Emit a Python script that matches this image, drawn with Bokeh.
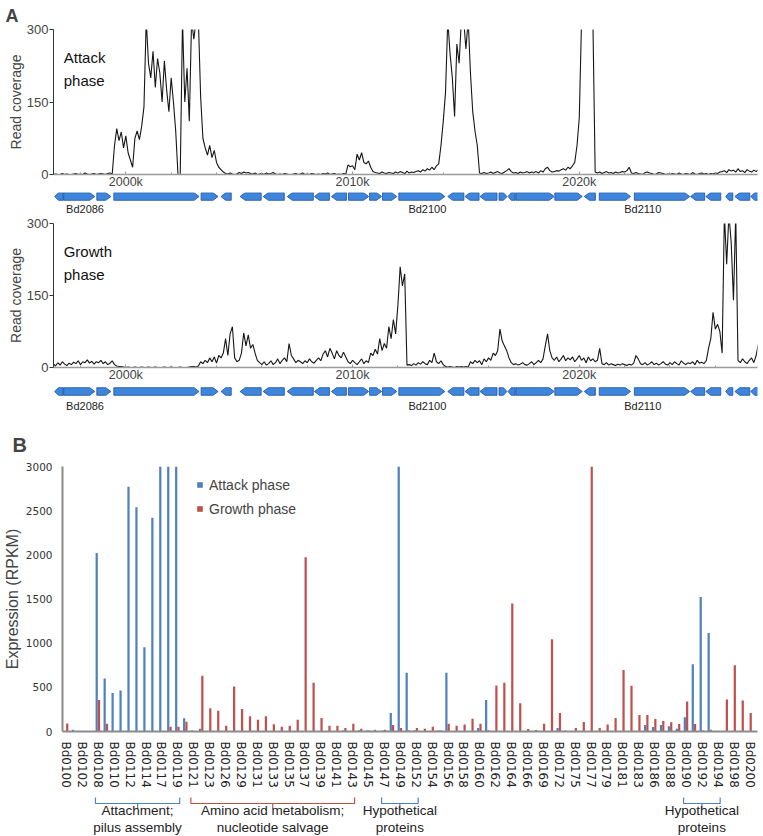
import numpy as np
from bokeh.plotting import figure
from bokeh.layouts import column
from bokeh.models import Range1d, FixedTicker, Legend, LegendItem
from bokeh.core.properties import value
from bokeh.embed import file_html
from bokeh.resources import INLINE

# ---------------- Panel A data ----------------
COV_START_KB = 1996.8
COV_STEP_KB = 0.1

attack_cov = [
    0, 1, 0, 0, 2, 0, 1, 0, 0, 1,
    2, 0, 1, 0, 3, 1, 0, 1, 2, 0,
    1, 2, 1, 0, 2, 3, 1, 60, 95, 70,
    88, 55, 80, 45, 30, 15, 75, 90, 72, 100,
    140, 320, 230, 200, 255, 180, 240, 210, 150, 235,
    175, 130, 200, 150, 90, 0, 0, 320, 150, 220,
    110, 320, 280, 320, 320, 160, 75, 55, 40, 60,
    35, 50, 25, 15, 10, 5, 2, 1, 3, 1,
    0, 1, 4, 2, 5, 3, 4, 2, 1, 3,
    0, 1, 2, 0, 3, 1, 2, 4, 1, 0,
    1, 0, 2, 1, 0, 0, 1, 2, 0, 1,
    3, 0, 1, 0, 2, 1, 0, 1, 0, 2,
    1, 3, 0, 1, 2, 0, 1, 0, 2, 1,
    20, 16, 18, 10, 42, 30, 45, 25, 22, 28,
    15, 6, 4, 3, 2, 5, 3, 2, 4, 3,
    2, 5, 3, 6, 4, 2, 7, 3, 5, 4,
    6, 8, 5, 10, 7, 12, 9, 15, 10, 18,
    22, 60, 110, 170, 320, 250, 200, 120, 270, 230,
    320, 320, 260, 320, 210, 130, 90, 60, 3, 2,
    4, 2, 3, 5, 2, 4, 6, 3, 2, 5,
    8, 12, 6, 3, 4, 2, 5, 3, 4, 6,
    3, 5, 4, 6, 3, 8, 5, 12, 15, 8,
    5, 6, 8, 7, 10, 12, 9, 15, 12, 18,
    25, 60, 118, 320, 320, 320, 320, 320, 320, 5,
    3, 5, 2, 4, 6, 3, 4, 2, 5, 3,
    4, 6, 5, 8, 15, 3, 2, 4, 2, 1,
    0, 4, 5, 3, 2, 0, 1, 4, 3, 2,
    0, 1, 0, 2, 1, 0, 3, 1, 0, 2,
    1, 0, 4, 1, 0, 2, 3, 1, 2, 0,
    2, 1, 3, 2, 5, 6, 8, 4, 10, 7,
    9, 5, 12, 6, 8, 4, 10, 7, 5, 9,
    6, 10,
]

growth_cov = [
    8, 3, 10, 5, 12, 7, 4, 9, 6, 11,
    8, 14, 6, 12, 10, 16, 9, 13, 7, 12,
    10, 15, 8, 12, 6, 9, 14, 6, 3, 2,
    2, 1, 0, 1, 0, 0, 1, 0, 0, 1,
    0, 0, 1, 0, 0, 1, 0, 0, 0, 1,
    0, 0, 1, 0, 0, 0, 1, 0, 0, 0,
    1, 2, 2, 1, 3, 12, 8, 15, 10, 20,
    12, 22, 9, 25, 20, 30, 60, 25, 70, 85,
    20, 12, 15, 30, 72, 45, 68, 40, 48, 30,
    15, 10, 6, 12, 5, 8, 14, 6, 10, 18,
    8, 15, 20, 12, 50, 25, 18, 10, 15, 12,
    8, 14, 10, 18, 12, 9, 15, 20, 14, 28,
    35, 22, 40, 30, 18, 35, 25, 20, 32, 22,
    12, 8, 15, 10, 6, 12, 18, 8, 14, 10,
    30, 25, 38, 28, 60, 35, 50, 40, 85, 60,
    100, 70, 130, 210, 170, 195, 5, 6, 4, 8,
    5, 10, 7, 12, 8, 6, 15, 10, 30, 12,
    8, 14, 6, 2, 1, 2, 1, 0, 2, 1,
    2, 1, 2, 1, 12, 8, 15, 10, 14, 6,
    18, 12, 20, 15, 30, 25, 35, 80, 55, 45,
    35, 20, 10, 6, 8, 5, 7, 10, 6, 5,
    8, 12, 6, 10, 15, 10, 18, 45, 70, 35,
    20, 15, 22, 12, 18, 25, 14, 20, 16, 22,
    12, 18, 25, 15, 20, 10, 22, 14, 18, 12,
    15, 40, 8, 6, 10, 5, 8, 6, 4, 7,
    5, 8, 6, 4, 7, 5, 9, 25, 18, 8,
    6, 10, 5, 8, 12, 6, 9, 5, 8, 12,
    7, 5, 10, 6, 12, 8, 5, 14, 9, 6,
    10, 8, 12, 6, 15, 9, 11, 8, 14, 40,
    60, 115, 80, 90, 75, 30, 320, 215, 320, 260,
    140, 320, 15, 10, 18, 12, 8, 15, 20, 10,
    25, 50,
]

gene_start = [1996.86, 1997.26, 1998.72, 1999.47, 2003.32, 2004.20, 2005.04, 2006.06,
              2007.12, 2008.32, 2009.07, 2009.82, 2010.75, 2011.32, 2012.04, 2014.20,
              2014.96, 2015.62, 2016.46, 2016.86, 2017.20, 2018.92, 2020.22, 2020.88,
              2022.43, 2024.91, 2025.58, 2026.46, 2026.86, 2027.56]
gene_end = [1997.24, 1998.63, 1999.34, 2003.23, 2004.07, 2004.65, 2005.97, 2006.99,
            2008.27, 2008.98, 2009.73, 2010.71, 2011.28, 2011.95, 2014.07, 2014.91,
            2015.58, 2016.37, 2016.81, 2017.17, 2018.89, 2020.13, 2020.71, 2022.26,
            2024.87, 2025.53, 2026.24, 2026.77, 2027.52, 2027.95]
gene_strand = [-1, 1, 1, 1, 1, -1, -1, -1, -1, -1, -1, 1, 1, 1, 1,
               -1, -1, -1, 1, -1, 1, 1, -1, 1, 1, -1, -1, -1, -1, -1]
gene_label_names = ["Bd2086", "Bd2100", "Bd2110"]
gene_label_kb = [1998.2, 2013.3, 2022.8]

cov_ticks_kb = [2000, 2010, 2020]
cov_tick_labels = ["2000k", "2010k", "2020k"]
cov_minor_kb = [1998, 2002, 2004, 2006, 2008, 2012, 2014, 2016, 2018, 2022, 2024, 2026]
cov_y_ticks = [0, 150, 300]

# ---------------- Panel B data ----------------
gene_tick_labels = [
    "Bd0100", "Bd0102", "Bd0108", "Bd0110", "Bd0112", "Bd0114", "Bd0117", "Bd0119",
    "Bd0121", "Bd0123", "Bd0126", "Bd0129", "Bd0131", "Bd0133", "Bd0135", "Bd0137",
    "Bd0139", "Bd0141", "Bd0143", "Bd0145", "Bd0147", "Bd0149", "Bd0152", "Bd0154",
    "Bd0156", "Bd0158", "Bd0160", "Bd0162", "Bd0164", "Bd0166", "Bd0169", "Bd0172",
    "Bd0175", "Bd0177", "Bd0179", "Bd0181", "Bd0183", "Bd0186", "Bd0188", "Bd0190",
    "Bd0192", "Bd0194", "Bd0198", "Bd0200",
]

attack_rpkm = [
    5, 20, 5, 5, 2020, 600, 435, 465, 2770, 2540,
    955, 2420, 3000, 3000, 3000, 150, 10, 30, 5, 5,
    5, 5, 5, 5, 5, 5, 5, 5, 5, 5,
    5, 5, 5, 5, 5, 10, 5, 15, 10, 19,
    10, 210, 3000, 665, 15, 5, 5, 10, 665, 5,
    5, 5, 41, 357, 5, 5, 5, 5, 5, 5,
    5, 5, 41, 10, 5, 5, 5, 5, 5, 5,
    5, 5, 5, 75, 50, 75, 60, 30, 160, 762,
    1524, 1116, 0, 5, 5, 5, 5,
]
growth_rpkm = [
    90, 5, 5, 5, 357, 87, 5, 5, 5, 5,
    5, 5, 5, 55, 55, 110, 5, 632, 264, 234,
    64, 510, 256, 173, 132, 173, 83, 53, 64, 132,
    1972, 553, 153, 64, 64, 41, 87, 30, 11, 5,
    19, 75, 41, 10, 41, 32, 55, 10, 87, 64,
    78, 143, 87, 15, 522, 552, 1450, 320, 28, 17,
    87, 1043, 209, 5, 41, 107, 3000, 41, 78, 153,
    697, 519, 187, 186, 142, 118, 106, 85, 340, 85,
    10, 19, 0, 363, 750, 352, 210,
]
rpkm_y_ticks = [0, 500, 1000, 1500, 2000, 2500, 3000]

bracket_first = ["Bd0108", "Bd0121", "Bd0147", "Bd0190"]
bracket_last = ["Bd0119", "Bd0143", "Bd0152", "Bd0194"]
bracket_text = ["Attachment;\npilus assembly", "Amino acid metabolism;\nnucleotide salvage",
                "Hypothetical\nproteins", "Hypothetical\nproteins"]
bracket_group = ["attack", "growth", "attack", "attack"]

# ---------------- styling ----------------
W = 763
SANS = "Liberation Sans"
NARROW = "Liberation Sans Narrow, Liberation Sans, sans-serif"
BLUE = "#4f81bd"
RED = "#c0504d"
GENE_FILL = "#3d86dc"
GENE_LINE = "#1f4f9c"
LEFT_A = 53
RIGHT_A = 6
LEFT_B = 62
RIGHT_B = 6

xr_a = Range1d(1996.81, 2027.86)


def cov_fig(vals, label, height, top, bottom, title=None):
    kw = dict(width=W, height=height, x_range=xr_a, y_range=Range1d(0, 300),
              output_backend="svg", toolbar_location=None,
              min_border_left=LEFT_A, min_border_right=RIGHT_A,
              min_border_top=top, min_border_bottom=bottom)
    if title:
        kw["title"] = title
    p = figure(**kw)
    p.outline_line_color = None
    p.xgrid.visible = False
    p.ygrid.visible = False
    x = COV_START_KB + COV_STEP_KB * np.arange(len(vals))
    p.line(x, vals, line_color="#161616", line_width=1.1)
    p.text(x=[1997.26], y=[259], text=[label], text_font=value(SANS),
           text_font_size="15px", text_baseline="top", text_line_height=1.33,
           text_color="#111111")
    ya = p.yaxis[0]
    ya.ticker = FixedTicker(ticks=cov_y_ticks)
    ya.axis_label = "Read coverage"
    ya.axis_label_text_font = SANS
    ya.axis_label_text_font_style = "normal"
    ya.axis_label_text_font_size = "14px"
    ya.axis_label_standoff = 0
    ya.major_label_text_font = SANS
    ya.major_label_text_font_size = "13px"
    ya.major_label_standoff = 1
    ya.major_tick_out = 4
    ya.major_tick_in = 0
    ya.minor_tick_out = 0
    ya.minor_tick_in = 0
    ya.axis_line_color = "#333333"
    ya.major_tick_line_color = "#333333"
    xa = p.xaxis[0]
    xa.ticker = FixedTicker(ticks=cov_ticks_kb, minor_ticks=cov_minor_kb)
    xa.major_label_overrides = dict(zip(cov_ticks_kb, cov_tick_labels))
    xa.major_label_text_font = SANS
    xa.major_label_text_font_size = "12.5px"
    xa.major_label_standoff = 0
    xa.axis_line_color = "#9a9a9a"
    xa.axis_line_width = 1.5
    xa.major_tick_out = 0
    xa.major_tick_in = 3
    xa.minor_tick_out = 0
    xa.minor_tick_in = 2
    xa.major_tick_line_color = "#9a9a9a"
    xa.minor_tick_line_color = "#9a9a9a"
    if title:
        p.title.text_font = SANS
        p.title.text_font_size = "18px"
        p.title.text_font_style = "bold"
        p.title.align = "left"
        p.title.offset = -48
        p.title.standoff = 7
    return p


def gene_fig(height, yc, ylab, gh=3.8):
    p = figure(width=W, height=height, x_range=xr_a, y_range=Range1d(0, height),
               output_backend="svg", toolbar_location=None,
               x_axis_location=None, y_axis_location=None,
               min_border_left=LEFT_A, min_border_right=RIGHT_A,
               min_border_top=0, min_border_bottom=0)
    p.outline_line_color = None
    p.grid.visible = False
    xs, ys = [], []
    for s, e, st in zip(gene_start, gene_end, gene_strand):
        tip = min(0.22, 0.45 * (e - s))
        if st > 0:
            px = [s, e - tip, e, e - tip, s]
        else:
            px = [e, s + tip, s, s + tip, e]
        xs.append(px)
        ys.append([yc - gh, yc - gh, yc, yc + gh, yc + gh])
    p.patches(xs, ys, fill_color=GENE_FILL, line_color=GENE_LINE, line_width=0.8)
    p.text(x=gene_label_kb, y=[ylab] * len(gene_label_kb), text=gene_label_names,
           text_align="center", text_baseline="middle", text_font=value(SANS),
           text_font_size="11px", text_color="#222222")
    return p


pa1 = cov_fig(attack_cov, "Attack\nphase", 192, 29, 18, title="A")
pa1g = gene_fig(22, 18, 6)
pa2 = cov_fig(growth_cov, "Growth\nphase", 171, 9, 18)
pa2g = gene_fig(26, 20, 6)

# ---------------- Panel B ----------------
n = len(attack_rpkm)
idx = np.arange(n)
pb = figure(width=W, height=379, x_range=Range1d(-0.45, 87.0), y_range=Range1d(0, 3000),
            output_backend="svg", toolbar_location=None, title="B",
            min_border_left=LEFT_B, min_border_right=RIGHT_B,
            min_border_top=55, min_border_bottom=58)
pb.outline_line_color = None
pb.xgrid.visible = False
pb.ygrid.visible = False
rb = pb.vbar(x=idx - 0.145, top=attack_rpkm, width=0.28, fill_color=BLUE, line_color=None)
rr = pb.vbar(x=idx + 0.145, top=growth_rpkm, width=0.28, fill_color=RED, line_color=None)

pb.title.text_font = SANS
pb.title.text_font_size = "20px"
pb.title.text_font_style = "bold"
pb.title.align = "left"
pb.title.offset = -50
pb.title.standoff = 22

yb = pb.yaxis[0]
yb.ticker = FixedTicker(ticks=rpkm_y_ticks)
yb.axis_label = "Expression (RPKM)"
yb.axis_label_text_font = SANS
yb.axis_label_text_font_style = "normal"
yb.axis_label_text_font_size = "16px"
yb.axis_label_standoff = 2
yb.major_label_text_font = "DejaVu Sans"
yb.major_label_text_font_size = "10.5px"
yb.major_label_text_color = "#333333"
yb.major_label_standoff = 4
yb.major_tick_line_color = None
yb.minor_tick_line_color = None
yb.axis_line_color = "#8c8c8c"
yb.axis_line_width = 2

xb = pb.xaxis[0]
tick_pos = [2 * k for k in range(len(gene_tick_labels))]
xb.ticker = FixedTicker(ticks=tick_pos)
xb.major_label_overrides = dict(zip(tick_pos, gene_tick_labels))
xb.major_label_orientation = "vertical"
xb.major_label_text_font = "DejaVu Sans"
xb.major_label_text_font_size = "12px"
xb.major_label_text_color = "#222222"
xb.major_label_standoff = 4
xb.major_tick_line_color = None
xb.minor_tick_line_color = None
xb.axis_line_color = "#8c8c8c"
xb.axis_line_width = 2

legend = Legend(items=[LegendItem(label="Attack phase", renderers=[rb]),
                       LegendItem(label="Growth phase", renderers=[rr])],
                location=(134, 214), glyph_width=7, glyph_height=7,
                label_text_font=SANS, label_text_font_size="14px", label_height=17,
                label_standoff=6, spacing=7, padding=5, border_line_color=None,
                background_fill_alpha=0)
pb.add_layout(legend, "center")

# brackets under the gene names
pc = figure(width=W, height=46, x_range=pb.x_range, y_range=Range1d(0, 46),
            output_backend="svg", toolbar_location=None,
            x_axis_location=None, y_axis_location=None,
            min_border_left=LEFT_B, min_border_right=RIGHT_B,
            min_border_top=0, min_border_bottom=0)
pc.outline_line_color = None
pc.grid.visible = False
colors = {"attack": BLUE, "growth": RED}
bx, by, bc, mids = [], [], [], []
for f, l, g in zip(bracket_first, bracket_last, bracket_group):
    s = 2 * gene_tick_labels.index(f) - 0.3
    e = 2 * gene_tick_labels.index(l) + 0.3
    m = 0.5 * (s + e)
    mids.append(m)
    bx += [[s, s, e, e], [m, m]]
    by += [[39, 33, 33, 39], [33, 28]]
    bc += [colors[g], colors[g]]
pc.multi_line(bx, by, line_color=bc, line_width=1.2)
pc.text(x=mids, y=[34] * len(mids), text=bracket_text, text_align="center",
        text_baseline="top", text_font=value(NARROW), text_font_size="13.5px",
        text_line_height=1.15, text_color="#222222")

layout = column(column(pa1, pa1g, pa2, pa2g, spacing=0), column(pb, pc, spacing=0), spacing=0)
open("out.html", "w").write(file_html(layout, INLINE))
